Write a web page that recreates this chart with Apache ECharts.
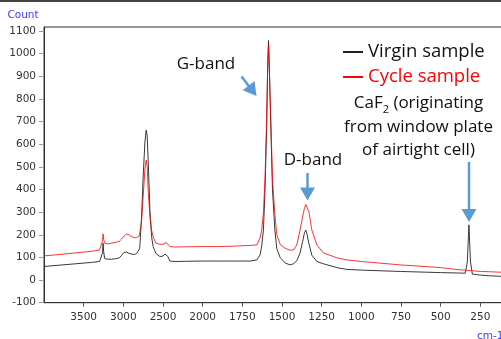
<!DOCTYPE html>
<html>
<head>
<meta charset="utf-8">
<script src="https://cdn.jsdelivr.net/npm/echarts@6/dist/echarts.min.js"></script>
<style>
  html, body { margin: 0; padding: 0; background: #fff; }
  #chart { width: 501px; height: 339px; }
</style>
</head>
<body>
<div id="chart"></div>
<script>
// Raman shift (cm-1), shared by both spectra
const wavenumbers = [
  4000, 3800, 3600, 3400, 3300, 3275, 3262, 3255, 3248, 3235, 3200, 3150, 3100, 3050,
  3020, 2990, 2960, 2930, 2900, 2860, 2830, 2800, 2792, 2770, 2750, 2728, 2712, 2700,
  2687, 2665, 2644, 2624, 2590, 2539, 2500, 2475, 2460, 2440, 2413, 2350, 2200, 2000,
  1900, 1800, 1700, 1659, 1638, 1628, 1617, 1607, 1597, 1590, 1585, 1580, 1570, 1560,
  1545, 1533, 1512, 1480, 1449, 1428, 1407, 1386, 1370, 1358, 1350, 1343, 1330, 1312,
  1280, 1239, 1154, 1091, 1000, 754, 600, 502, 376, 345, 332, 322, 312, 300,
  250, 200, 100
];
const virginCounts = [
  60, 66, 72, 78, 82, 86, 120, 163, 125, 96, 92, 92, 94, 98,
  110, 122, 124, 118, 115, 113, 118, 135, 148, 280, 456, 610, 662, 640,
  530, 310, 192, 148, 118, 104, 106, 115, 119, 105, 84, 82, 83, 84,
  84, 84, 84, 89, 111, 150, 221, 400, 662, 950, 1058, 950, 662, 400,
  221, 140, 100, 75, 67, 72, 85, 120, 170, 210, 221, 205, 160, 110,
  82, 72, 55, 47, 44, 38, 35, 33, 31, 30, 80, 244, 80, 26,
  22, 19, 16
];
const cycleCounts = [
  107, 113, 120, 127, 133, 138, 175, 204, 180, 163, 160, 163, 166, 172,
  182, 195, 203, 200, 192, 187, 188, 195, 200, 260, 368, 490, 530, 505,
  398, 280, 221, 190, 163, 158, 158, 163, 166, 158, 148, 146, 147, 148,
  148, 150, 153, 155, 186, 221, 296, 450, 700, 960, 1040, 930, 700, 450,
  290, 200, 158, 140, 132, 133, 155, 221, 280, 320, 334, 336, 300, 221,
  155, 120, 98, 89, 82, 67, 60, 55, 45, 44, 43, 43, 42, 41,
  38, 37, 34
];
const xTickLabels = [3500, 3000, 2500, 2000, 1750, 1500, 1250, 1000, 750, 500, 250];
const yTickLabels = [-100, 0, 100, 200, 300, 400, 500, 600, 700, 800, 900, 1000, 1100];

// above 2000 cm-1 the axis runs at half scale
const BREAK = 2000;
const toAxis = w => (w > BREAK ? BREAK + (w - BREAK) / 2 : w);
const fromAxis = u => (u > BREAK ? BREAK + (u - BREAK) * 2 : u);

const ink = '#111';
const blue = '#5b9bd5';
const tickFont = 'DejaVu Sans';
const noteFont = 'Open Sans';

function arrow(x1, y1, x2, y2) {
  const dx = x2 - x1, dy = y2 - y1;
  const len = Math.sqrt(dx * dx + dy * dy);
  const ux = dx / len, uy = dy / len;
  const head = 13, half = 7.5;
  const bx = x2 - ux * head, by = y2 - uy * head;
  return [
    { type: 'line', shape: { x1: x1, y1: y1, x2: bx + ux, y2: by + uy },
      style: { stroke: blue, lineWidth: 2.5 } },
    { type: 'polygon',
      shape: { points: [[x2, y2], [bx - uy * half, by + ux * half], [bx + uy * half, by - ux * half]] },
      style: { fill: blue } }
  ];
}

function note(text, x, y) {
  return { type: 'text', style: { text: text, x: x, y: y, align: 'center', verticalAlign: 'middle',
    fill: ink, fontSize: 17, fontFamily: noteFont } };
}

const chart = echarts.init(document.getElementById('chart'));
chart.setOption({
  animation: false,
  grid: {
    left: 44, top: 27, width: 476, height: 275.7,
    show: true, borderColor: '#333', borderWidth: 1,
    outerBoundsMode: 'none'
  },
  legend: {
    orient: 'vertical', left: 338, top: 37.5,
    icon: 'rect', itemWidth: 20, itemHeight: 2, itemGap: 6,
    textStyle: { fontFamily: noteFont, fontSize: 18.5, lineHeight: 18 },
    data: [
      { name: 'Virgin sample', textStyle: { color: ink } },
      { name: 'Cycle sample', textStyle: { color: '#ff0000' } }
    ]
  },
  xAxis: {
    type: 'value', inverse: true, min: 0, max: 3000,
    axisLine: { onZero: false, lineStyle: { color: '#333', width: 1 } },
    axisTick: { customValues: xTickLabels.map(toAxis), length: 4, lineStyle: { color: '#555' } },
    axisLabel: {
      customValues: xTickLabels.map(toAxis),
      formatter: v => String(Math.round(fromAxis(v))),
      color: '#333', fontFamily: tickFont, fontSize: 10.5, margin: 9
    },
    splitLine: { show: false }
  },
  yAxis: {
    type: 'value', min: -100, max: 1118,
    axisLine: { show: true, onZero: false, lineStyle: { color: '#333', width: 1 } },
    axisTick: { show: true, customValues: yTickLabels, length: 5, lineStyle: { color: '#999' } },
    axisLabel: {
      customValues: yTickLabels, formatter: v => String(v),
      color: '#333', fontFamily: tickFont, fontSize: 10.5, margin: 8
    },
    splitLine: { show: false }
  },
  series: [
    {
      name: 'Virgin sample', type: 'line', showSymbol: false, color: '#222',
      lineStyle: { width: 0.9 }, z: 2,
      data: wavenumbers.map((w, i) => [toAxis(w), virginCounts[i]])
    },
    {
      name: 'Cycle sample', type: 'line', showSymbol: false, color: '#ff0000',
      lineStyle: { width: 0.8 }, z: 3,
      data: wavenumbers.map((w, i) => [toAxis(w), cycleCounts[i]])
    }
  ],
  graphic: [
    { type: 'rect', shape: { x: 0, y: 0, width: 501, height: 2 }, style: { fill: '#444' } },
    { type: 'text', style: { text: 'Count', x: 23, y: 15, align: 'center', verticalAlign: 'middle',
      fill: '#3c3cff', fontSize: 10.5, fontFamily: tickFont } },
    { type: 'text', style: { text: 'cm-1', x: 477, y: 331, align: 'left', verticalAlign: 'top',
      fill: '#3c3cff', fontSize: 10.5, fontFamily: tickFont } },
    note('G-band', 206, 64),
    note('D-band', 313, 160),
    {
      type: 'text',
      style: {
        text: 'CaF{s|2} (originating\nfrom window plate\nof airtight cell)',
        x: 418.5, y: 91.7, align: 'center', verticalAlign: 'top',
        fill: ink, fontSize: 17, fontFamily: noteFont, lineHeight: 23.5,
        rich: { s: { fontSize: 11, fontFamily: noteFont, lineHeight: 12, verticalAlign: 'bottom', fill: ink } }
      }
    },
    ...arrow(241.5, 76.5, 256.5, 96),
    ...arrow(307.5, 173, 307.5, 200.5),
    ...arrow(469, 162, 469, 222)
  ]
});
</script>
</body>
</html>
